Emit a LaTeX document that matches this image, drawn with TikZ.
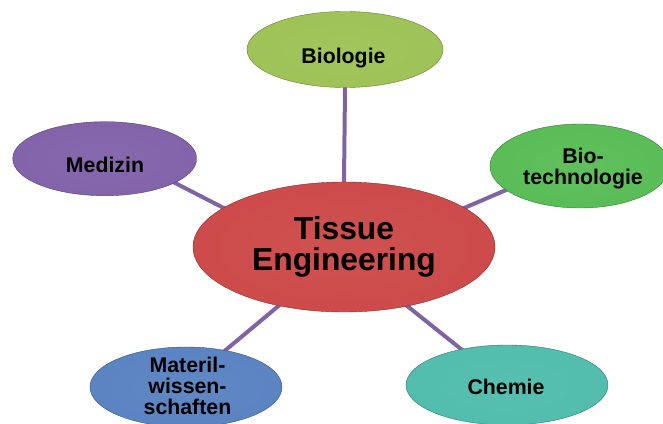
\documentclass[tikz,border=0pt]{standalone}
\usepackage{fontspec}
\setmainfont{Liberation Sans}
\usetikzlibrary{shapes.geometric,backgrounds}
\colorlet{bubblecol}{red}
\pgfdeclareradialshading[bubblecol]{bubbleshade}{\pgfpoint{0bp}{0bp}}{%
  color(0bp)=(bubblecol!94!white);
  color(25bp)=(bubblecol!97!white);
  color(41bp)=(bubblecol);
  color(46bp)=(bubblecol!86!black);
  color(50bp)=(bubblecol!62!black)}
\definecolor{cRed}{HTML}{CB4645}
\definecolor{cLime}{HTML}{9CC152}
\definecolor{cPurple}{HTML}{7F5FA8}
\definecolor{cGreen}{HTML}{55BB52}
\definecolor{cBlue}{HTML}{5680C0}
\definecolor{cTeal}{HTML}{4DBBAB}
\definecolor{cLine}{HTML}{8064A2}
\tikzset{
  bubble/.style={ellipse, inner sep=0pt, /utils/exec={\colorlet{bubblecol}{#1}},
    shading=bubbleshade, draw=#1!65!black, line width=0.4pt},
  lbl/.style={inner sep=0pt, align=center, text=black,
    font=\bfseries\fontsize{21.3}{21.3}\selectfont},
  biglbl/.style={inner sep=0pt, align=center, text=black,
    font=\bfseries\fontsize{31.8}{30.7}\selectfont},
  spoke/.style={draw=cLine, line width=4pt, shorten <=-5pt, shorten >=-5pt}
}
\begin{document}
\begin{tikzpicture}[x=1pt,y=-1pt]
\useasboundingbox (0,0) rectangle (663,423);
\begin{scope}[on background layer]
  \fill[white] (0,0) rectangle (663,423);
\end{scope}
% ellipses
\node[bubble=cRed, minimum width=302pt, minimum height=130pt] (te) at (344,247) {};
\node[bubble=cLime, minimum width=196pt, minimum height=76pt] (bio) at (345,49.5) {};
\node[bubble=cPurple, minimum width=184pt, minimum height=74pt] (med) at (104.7,158.7) {};
\node[bubble=cGreen, minimum width=180pt, minimum height=84pt] (bt) at (580,166) {};
\node[bubble=cBlue, minimum width=192pt, minimum height=80pt] (mat) at (186,387) {};
\node[bubble=cTeal, minimum width=202pt, minimum height=80pt] (ch) at (507,385) {};
% labels
\node[biglbl] (teT) at (344,247) {Tissue\\Engineering};
\node[lbl] (bioT) at (343.5,58.3) {Biologie};
\node[lbl] (medT) at (105,164.7) {Medizin};
\node[lbl] (btT) at (583,168.7) {Bio-\\technologie};
\node[lbl] (matT) at (187.5,385.8) {Materil-\\wissen-\\schaften};
\node[lbl] (chT) at (506,387) {Chemie};
% connectors
\begin{scope}[on background layer]
  \draw[spoke] (bio.south) -- (te.north);
  \draw[spoke] (med.-19) -- (te.162);
  \draw[spoke] (bt.-162) -- (te.18);
  \draw[spoke] (mat.43) -- (te.-138);
  \draw[spoke] (ch.142) -- (te.-43);
\end{scope}
\end{tikzpicture}
\end{document}
